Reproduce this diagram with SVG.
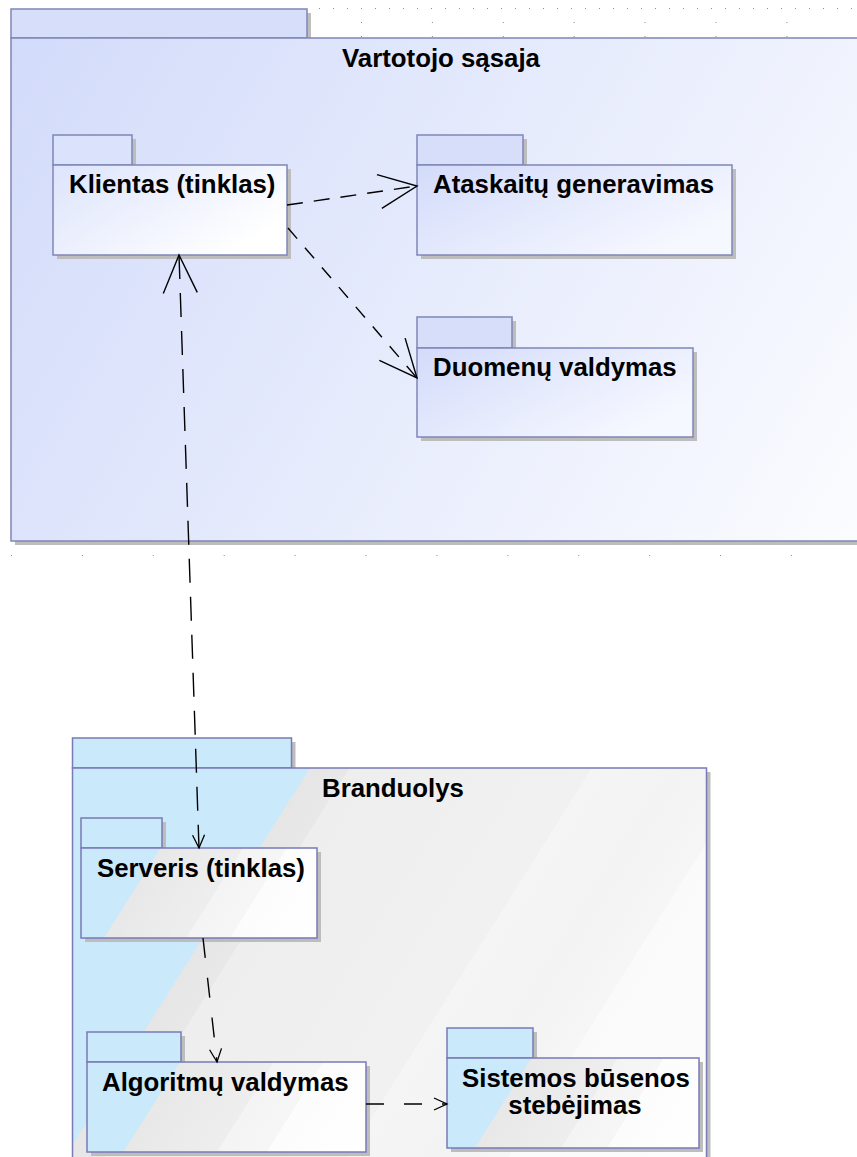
<svg xmlns="http://www.w3.org/2000/svg" xmlns:xlink="http://www.w3.org/1999/xlink" width="857" height="1157" viewBox="0 0 857 1157">
<style>
.sh{fill:#bdbdbd}
.bp{stroke:#7f86b6;stroke-width:1.5}
.gp{stroke:#7a7ab6;stroke-width:1.5}
.tabB{fill:#d6defa}
.t{font-family:"Liberation Sans",Arial,sans-serif;font-weight:bold;font-size:25.8px;fill:#000}
.dot{stroke:#8a8a8a;stroke-width:1;fill:none}
.c{fill:none;stroke:#000;stroke-width:1.4}
</style>
<defs>
<linearGradient id="gTop" gradientUnits="userSpaceOnUse" x1="11" y1="38" x2="857" y2="541">
<stop offset="0" stop-color="#d2dbfa"/><stop offset="1" stop-color="#fbfcff"/>
</linearGradient>
<linearGradient id="gBlue" x1="0" y1="0" x2="1" y2="0.6">
<stop offset="0" stop-color="#d3dbfa"/><stop offset="1" stop-color="#f6f8ff"/>
</linearGradient>
<linearGradient id="gBlueL" x1="0" y1="0" x2="1" y2="0.6">
<stop offset="0" stop-color="#dde4fc"/><stop offset="1" stop-color="#ffffff"/>
</linearGradient>
<linearGradient id="gBran" gradientUnits="userSpaceOnUse" x1="72" y1="738" x2="715" y2="1143">
<stop offset="0" stop-color="#cae9fb"/><stop offset="0.286" stop-color="#cae9fb"/>
<stop offset="0.286" stop-color="#e6e6e6"/><stop offset="0.33" stop-color="#e8e8e8"/>
<stop offset="0.33" stop-color="#eeeeee"/><stop offset="0.6" stop-color="#f1f1f1"/>
<stop offset="0.6" stop-color="#f5f5f5"/><stop offset="0.7" stop-color="#f3f3f3"/>
<stop offset="0.78" stop-color="#f6f6f6"/><stop offset="0.78" stop-color="#fafafa"/>
<stop offset="1" stop-color="#fcfcfc"/>
</linearGradient>
<linearGradient id="gGlass">
<stop offset="0" stop-color="#cae9fb"/><stop offset="0.316" stop-color="#cae9fb"/>
<stop offset="0.316" stop-color="#e8e8e8"/><stop offset="0.58" stop-color="#eeeeee"/>
<stop offset="0.58" stop-color="#f4f4f4"/><stop offset="0.72" stop-color="#f6f6f6"/>
<stop offset="0.72" stop-color="#fcfcfc"/><stop offset="1" stop-color="#ffffff"/>
</linearGradient>
<linearGradient id="gServ" xlink:href="#gGlass" gradientUnits="userSpaceOnUse" x1="81" y1="818" x2="304.3" y2="958.7"/>
<linearGradient id="gAlg" xlink:href="#gGlass" gradientUnits="userSpaceOnUse" x1="87" y1="1032" x2="340.8" y2="1191.9"/>
<linearGradient id="gSis" xlink:href="#gGlass" gradientUnits="userSpaceOnUse" x1="447" y1="1028" x2="681.3" y2="1175.6"/>
<marker id="big" markerUnits="userSpaceOnUse" viewBox="-45 -25 50 50" markerWidth="50" markerHeight="50" refX="0" refY="0" orient="auto-start-reverse" overflow="visible">
<path d="M-38,-17 L0,0 L-38,17" fill="none" stroke="#000" stroke-width="1.4"/>
</marker>
<marker id="small" markerUnits="userSpaceOnUse" viewBox="-20 -10 25 20" markerWidth="25" markerHeight="20" refX="0" refY="0" orient="auto" overflow="visible">
<path d="M-13,-6 L0,0 L-13,6" fill="none" stroke="#000" stroke-width="1.3"/>
</marker>
</defs>

<g id="grid">
<line class="dot" x1="319" y1="8.5" x2="852" y2="8.5" stroke-dasharray="1 13"/>
<line class="dot" x1="361" y1="22.5" x2="852" y2="22.5" stroke-dasharray="1 69.9"/>
<line class="dot" x1="361" y1="36.5" x2="852" y2="36.5" stroke-dasharray="1 69.9"/>
<line class="dot" x1="11" y1="555.5" x2="852" y2="555.5" stroke-dasharray="1 69.9"/>
</g>

<g id="vartotojo-sasaja">
<rect class="sh" x="15" y="13" width="296" height="29"/>
<rect class="sh" x="15" y="42" width="860" height="503"/>
<rect class="bp tabB" x="11" y="9" width="296" height="29"/>
<rect class="bp" x="11" y="38" width="860" height="503" fill="url(#gTop)"/>
<text class="t" x="441" y="67" text-anchor="middle">Vartotojo sąsaja</text>
</g>

<g id="klientas">
<rect class="sh" x="57" y="139" width="79" height="30"/>
<rect class="sh" x="57" y="169" width="234" height="90"/>
<rect class="bp" x="53" y="135" width="79" height="30" fill="#dbe2fb"/>
<rect class="bp" x="53" y="165" width="234" height="90" fill="url(#gBlueL)"/>
<text class="t" x="69" y="193">Klientas (tinklas)</text>
</g>

<g id="ataskaitu-generavimas">
<rect class="sh" x="421" y="139" width="106" height="30"/>
<rect class="sh" x="421" y="169" width="315" height="90"/>
<rect class="bp tabB" x="417" y="135" width="106" height="30"/>
<rect class="bp" x="417" y="165" width="315" height="90" fill="url(#gBlue)"/>
<text class="t" x="433" y="193">Ataskaitų generavimas</text>
</g>

<g id="duomenu-valdymas">
<rect class="sh" x="421" y="321" width="95" height="31"/>
<rect class="sh" x="421" y="352" width="276" height="89"/>
<rect class="bp tabB" x="417" y="317" width="95" height="31"/>
<rect class="bp" x="417" y="348" width="276" height="89" fill="url(#gBlue)"/>
<text class="t" x="433" y="376">Duomenų valdymas</text>
</g>

<g id="branduolys">
<rect class="sh" x="76.5" y="742" width="219" height="30"/>
<rect class="sh" x="76.5" y="772" width="634" height="420"/>
<rect class="gp" x="72.5" y="738" width="219" height="30" fill="url(#gBran)"/>
<rect class="gp" x="72.5" y="768" width="634" height="420" fill="url(#gBran)"/>
<text class="t" x="322" y="797">Branduolys</text>
</g>

<g id="serveris">
<rect class="sh" x="85" y="822" width="81" height="30"/>
<rect class="sh" x="85" y="852" width="236" height="90"/>
<rect class="gp" x="81" y="818" width="81" height="30" fill="url(#gServ)"/>
<rect class="gp" x="81" y="848" width="236" height="90" fill="url(#gServ)"/>
<text class="t" x="97" y="877">Serveris (tinklas)</text>
</g>

<g id="algoritmu-valdymas">
<rect class="sh" x="91" y="1036" width="94" height="30"/>
<rect class="sh" x="91" y="1066" width="279" height="90"/>
<rect class="gp" x="87" y="1032" width="94" height="30" fill="url(#gAlg)"/>
<rect class="gp" x="87" y="1062" width="279" height="90" fill="url(#gAlg)"/>
<text class="t" x="102" y="1091">Algoritmų valdymas</text>
</g>

<g id="sistemos-busenos-stebejimas">
<rect class="sh" x="451" y="1032" width="86" height="30"/>
<rect class="sh" x="451" y="1062" width="252" height="90"/>
<rect class="gp" x="447" y="1028" width="86" height="30" fill="url(#gSis)"/>
<rect class="gp" x="447" y="1058" width="252" height="90" fill="url(#gSis)"/>
<text class="t" x="576" y="1087" text-anchor="middle">Sistemos būsenos</text>
<text class="t" x="575" y="1114" text-anchor="middle">stebėjimas</text>
</g>

<g id="connectors">
<path class="c" d="M287,205 L417,186" stroke-dasharray="16 11" marker-end="url(#big)"/>
<path class="c" d="M288,228 L417,378" stroke-dasharray="14 12" marker-end="url(#big)"/>
<path class="c" d="M179,255 L199,848" stroke-dasharray="24 14" marker-start="url(#big)" marker-end="url(#small)"/>
<path class="c" d="M203,938 L217,1062" stroke-dasharray="20 20" marker-end="url(#small)"/>
<path class="c" d="M366,1104 L447,1104" stroke-dasharray="18 20" marker-end="url(#small)"/>
</g>
</svg>
